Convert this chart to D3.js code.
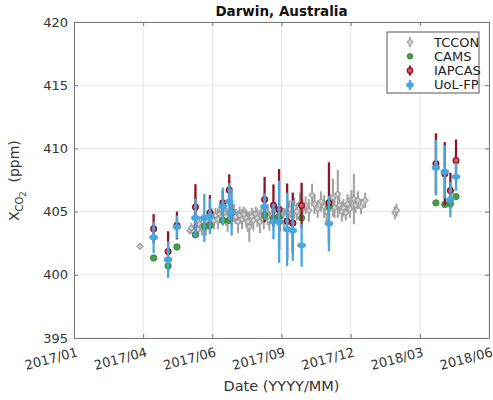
<!DOCTYPE html>
<html>
<head>
<meta charset="utf-8">
<script src="https://cdn.jsdelivr.net/npm/d3@7"></script>
<style>
  body { margin: 0; background: #fff; }
  svg text { font-family: "DejaVu Sans", sans-serif; }
</style>
</head>
<body>
<svg id="chart" width="493" height="400"></svg>
<script>
// tick labels as printed on the figure (ticks are evenly spaced)
const xTickLabels = ['2017/01', '2017/04', '2017/06', '2017/09', '2017/12', '2018/03', '2018/06'];
const yTicks = [395, 400, 405, 410, 415, 420];

// TCCON ground station
const tcconDates = ['2017-03-24',
  '2017-05-25', '2017-05-27', '2017-05-30', '2017-06-01', '2017-06-04', '2017-06-06', '2017-06-09', '2017-06-11',
  '2017-06-14', '2017-06-16', '2017-06-19', '2017-06-21', '2017-06-24', '2017-06-26', '2017-06-29', '2017-07-01',
  '2017-07-04', '2017-07-06', '2017-07-09', '2017-07-11', '2017-07-14', '2017-07-16', '2017-07-19', '2017-07-21',
  '2017-07-24', '2017-07-26', '2017-07-29', '2017-07-31', '2017-08-03', '2017-08-05', '2017-08-07', '2017-08-10',
  '2017-08-12', '2017-08-15', '2017-08-17', '2017-08-20', '2017-08-22', '2017-08-25', '2017-08-27', '2017-08-30',
  '2017-09-01', '2017-09-04', '2017-09-06', '2017-09-09', '2017-09-11', '2017-09-14', '2017-09-16', '2017-09-19',
  '2017-09-21', '2017-09-24', '2017-09-26', '2017-09-29', '2017-10-02', '2017-10-05', '2017-10-09', '2017-10-12',
  '2017-10-16', '2017-10-20', '2017-10-24', '2017-10-27', '2017-10-31', '2017-11-04', '2017-11-08', '2017-11-11',
  '2017-11-15', '2017-11-19', '2017-11-21', '2017-11-25', '2017-11-27', '2017-11-30', '2017-12-02', '2017-12-05',
  '2017-12-07', '2017-12-10', '2017-12-12', '2017-12-15', '2017-12-17', '2017-12-20', '2017-12-24', '2017-12-29',
  '2018-02-04', '2018-02-06'];
const tcconXco2 = [402.25,
  403.5, 403.7, 403.4, 403.8, 403.6, 404.0, 403.8, 404.2,
  403.9, 404.3, 404.1, 404.5, 404.3, 404.7, 404.4, 404.8,
  404.6, 404.9, 404.6, 404.3, 404.8, 404.5, 404.9, 404.6,
  404.2, 404.7, 404.4, 404.8, 404.5, 404.2, 403.8, 404.6,
  404.3, 404.8, 404.5, 404.2, 404.7, 404.4, 404.9, 404.6,
  404.3, 404.7, 404.4, 404.8, 404.5, 404.2, 404.7, 404.4,
  404.6, 404.9, 405.2, 404.8, 405.3, 405.0, 405.6, 405.2,
  405.5, 405.1, 406.3, 405.6, 405.2, 405.8, 405.4, 405.0,
  405.7, 406.1, 405.3, 406.4, 405.5, 405.0, 405.3, 404.9,
  405.6, 405.2, 406.0, 406.0, 405.5, 405.9, 405.4, 405.9,
  404.9, 405.1];
const tcconErr = [0.2,
  0.3, 0.4, 0.5, 0.5, 0.6, 0.6, 0.7, 0.6,
  0.8, 0.7, 0.6, 0.8, 0.7, 0.6, 0.8, 0.7,
  0.6, 0.8, 0.7, 0.9, 0.6, 0.8, 0.7, 0.6,
  0.9, 0.7, 0.8, 0.6, 0.7, 0.8, 1.2, 0.7,
  0.8, 0.6, 0.7, 0.9, 0.7, 0.8, 0.6, 0.7,
  0.8, 0.6, 0.9, 0.7, 0.6, 0.8, 0.7, 0.9,
  0.6, 0.8, 0.7, 0.9, 0.8, 0.7, 0.9, 0.8,
  0.7, 0.9, 0.9, 0.8, 0.7, 0.8, 0.9, 0.8,
  0.7, 1.5, 0.8, 1.9, 0.7, 0.8, 0.7, 0.6,
  0.8, 0.7, 0.7, 2.0, 0.6, 0.7, 0.6, 0.6,
  0.5, 0.5];

// satellite overpass days
const overpassDates = ['2017-04-10', '2017-04-28', '2017-05-09', '2017-06-01', '2017-06-12', '2017-06-19',
  '2017-07-05', '2017-07-13', '2017-07-16', '2017-08-26', '2017-09-06', '2017-09-13', '2017-09-23',
  '2017-09-30', '2017-10-11', '2017-11-14', '2018-03-27', '2018-04-07', '2018-04-14', '2018-04-21'];
const camsXco2 = [401.33, 400.71, 402.2, 403.17, 403.84, 403.9,
  404.3, 404.3, null, 404.7, 404.5, 404.6, null,
  404.1, 404.5, 405.4, 405.69, 405.56, 405.63, 406.2];
const iapcasXco2 = [403.65, 401.85, 403.9, 405.37, null, 404.9,
  405.7, 406.7, 404.95, 405.95, 405.5, 405.16, 404.23,
  404.1, 405.48, 405.7, 408.79, 408.0, 406.67, 409.05];
const iapcasErr = [1.15, 1.6, 1.1, 1.8, null, 1.4,
  1.0, 1.25, 0.8, 1.8, 1.65, 3.2, 3.0,
  2.4, 1.8, 3.2, 2.4, 2.5, 1.4, 1.65];
const uolXco2 = [402.96, 401.2, 403.78, 404.5, 404.5, 404.63,
  405.4, 405.8, 404.95, 405.4, 404.2, 404.2, 403.6,
  403.5, 402.33, 404.05, 408.47, 408.15, 405.95, 407.75];
const uolErr = [1.25, 1.45, 0.9, 1.5, 1.9, 1.4,
  1.5, 1.45, 1.85, 1.05, 1.4, 3.25, 2.9,
  2.4, 1.7, 2.2, 2.2, 2.1, 1.4, 1.1];

const seriesNames = ['TCCON', 'CAMS', 'IAPCAS', 'UoL-FP'];

const svg = d3.select('#chart');
const pLeft = 74, pRight = 489, pTop = 22, pBottom = 338;
const parse = d3.timeParse('%Y-%m-%d');

const start = parse('2017-01-01'), end = parse('2018-06-01');
const x = d3.scaleTime().domain([start, end]).range([pLeft, pRight]);
const y = d3.scaleLinear().domain([395, 420]).range([pBottom, pTop]);
const xTicks = d3.range(7).map(i => new Date(+start + i * (end - start) / 6));

const col = {
  gray: '#a0a0a0', grayFill: '#d6d6d6',
  green: '#4c9d4a', greenEdge: '#2e7d32',
  red: '#8c1426', redFill: '#d65a6c',
  blue: '#46a6e0'
};

// grid
svg.append('g').selectAll('line').data(xTicks).join('line')
  .attr('x1', d => x(d)).attr('x2', d => x(d)).attr('y1', pTop).attr('y2', pBottom)
  .attr('stroke', '#e6e6e6');
svg.append('g').selectAll('line').data(yTicks).join('line')
  .attr('x1', pLeft).attr('x2', pRight).attr('y1', d => y(d)).attr('y2', d => y(d))
  .attr('stroke', '#e6e6e6');

// axes (ticks point inward, like matlab)
const xAxis = svg.append('g').attr('transform', `translate(0,${pBottom})`)
  .call(d3.axisBottom(x).tickValues(xTicks).tickFormat((d, i) => xTickLabels[i]).tickSizeInner(-4).tickSizeOuter(0));
xAxis.selectAll('text')
  .attr('text-anchor', 'end')
  .attr('transform', 'translate(4,18) rotate(-15)')
  .attr('y', 0).attr('dy', 0)
  .attr('font-size', 13).attr('fill', '#333');

const yAxis = svg.append('g').attr('transform', `translate(${pLeft},0)`)
  .call(d3.axisLeft(y).tickValues(yTicks).tickSizeInner(-4).tickSizeOuter(0).tickPadding(6));
yAxis.selectAll('text').attr('font-size', 13).attr('fill', '#333');

svg.append('g').attr('transform', `translate(0,${pTop})`)
  .call(d3.axisTop(x).tickValues(xTicks).tickFormat('').tickSizeInner(-4).tickSizeOuter(0));
svg.append('g').attr('transform', `translate(${pRight},0)`)
  .call(d3.axisRight(y).tickValues(yTicks).tickFormat('').tickSizeInner(-4).tickSizeOuter(0));
svg.selectAll('.domain, .tick line').attr('stroke', '#777');

// data helpers
function pts(dates, vals, errs) {
  return dates.map((d, i) => ({ t: parse(d), v: vals[i], e: errs ? errs[i] : 0 }))
    .filter(p => p.v != null);
}
function bars(data, color, w) {
  svg.append('g').selectAll('line').data(data).join('line')
    .attr('x1', d => x(d.t)).attr('x2', d => x(d.t))
    .attr('y1', d => y(d.v - d.e)).attr('y2', d => y(d.v + d.e))
    .attr('stroke', color).attr('stroke-width', w);
}
const diamond = d3.symbol().type(d3.symbolDiamond2).size(22);

// TCCON
const tccon = pts(tcconDates, tcconXco2, tcconErr);
bars(tccon, col.gray, 2);
svg.append('g').selectAll('path').data(tccon).join('path')
  .attr('transform', d => `translate(${x(d.t)},${y(d.v)})`)
  .attr('d', diamond)
  .attr('fill', col.grayFill).attr('stroke', col.gray).attr('stroke-width', 1.3);

// CAMS
const cams = pts(overpassDates, camsXco2);
svg.append('g').selectAll('circle').data(cams).join('circle')
  .attr('cx', d => x(d.t)).attr('cy', d => y(d.v)).attr('r', 3.2)
  .attr('fill', col.green).attr('stroke', col.greenEdge).attr('stroke-width', 0.8);

// IAPCAS
const iap = pts(overpassDates, iapcasXco2, iapcasErr);
bars(iap, col.red, 2.3);
svg.append('g').selectAll('circle').data(iap).join('circle')
  .attr('cx', d => x(d.t)).attr('cy', d => y(d.v)).attr('r', 2.8)
  .attr('fill', col.redFill).attr('stroke', col.red).attr('stroke-width', 1.4);

// UoL-FP
const uol = pts(overpassDates, uolXco2, uolErr);
bars(uol, col.blue, 2.3);
svg.append('g').selectAll('ellipse').data(uol).join('ellipse')
  .attr('cx', d => x(d.t)).attr('cy', d => y(d.v)).attr('rx', 4.3).attr('ry', 2.8)
  .attr('fill', col.blue);

// legend
const lg = svg.append('g');
lg.append('rect').attr('x', 387).attr('y', 32).attr('width', 92).attr('height', 61)
  .attr('fill', '#fff').attr('stroke', '#555').attr('stroke-width', 1);
seriesNames.forEach((name, i) => {
  const ly = 42 + i * 14.3, lx = 410;
  if (name === 'TCCON') {
    lg.append('line').attr('x1', lx).attr('x2', lx).attr('y1', ly - 5).attr('y2', ly + 5).attr('stroke', col.gray).attr('stroke-width', 1.8);
    lg.append('path').attr('transform', `translate(${lx},${ly})`).attr('d', diamond)
      .attr('fill', col.grayFill).attr('stroke', col.gray).attr('stroke-width', 1.2);
  } else if (name === 'CAMS') {
    lg.append('circle').attr('cx', lx).attr('cy', ly).attr('r', 2.8)
      .attr('fill', col.green).attr('stroke', col.greenEdge).attr('stroke-width', 0.8);
  } else if (name === 'IAPCAS') {
    lg.append('line').attr('x1', lx).attr('x2', lx).attr('y1', ly - 5).attr('y2', ly + 5).attr('stroke', col.red).attr('stroke-width', 2.2);
    lg.append('circle').attr('cx', lx).attr('cy', ly).attr('r', 2.7)
      .attr('fill', col.redFill).attr('stroke', col.red).attr('stroke-width', 1.3);
  } else {
    lg.append('line').attr('x1', lx).attr('x2', lx).attr('y1', ly - 5).attr('y2', ly + 5).attr('stroke', col.blue).attr('stroke-width', 2.2);
    lg.append('ellipse').attr('cx', lx).attr('cy', ly).attr('rx', 3.8).attr('ry', 2.6).attr('fill', col.blue);
  }
  lg.append('text').attr('x', 434).attr('y', ly).attr('dy', '0.35em')
    .attr('font-size', 13).attr('fill', '#222').text(name);
});

// title
svg.append('text').attr('x', (pLeft + pRight) / 2).attr('y', 16)
  .attr('text-anchor', 'middle').attr('font-size', 13.5).attr('font-weight', 'bold').attr('fill', '#111')
  .text('Darwin, Australia');

// x label
svg.append('text').attr('x', (pLeft + pRight) / 2).attr('y', 391)
  .attr('text-anchor', 'middle').attr('font-size', 14.5).attr('fill', '#333')
  .text('Date (YYYY/MM)');

// y label with subscripts
const yl = svg.append('text').attr('transform', 'translate(19,221) rotate(-90)')
  .attr('text-anchor', 'start').attr('font-size', 14).attr('fill', '#333');
yl.append('tspan').text('X');
yl.append('tspan').attr('font-size', 10).attr('dy', 4).text('CO');
yl.append('tspan').attr('font-size', 8).attr('dy', 3).text('2');
yl.append('tspan').attr('dy', -7).text('\u00a0\u00a0(ppm)');
</script>
</body>
</html>
